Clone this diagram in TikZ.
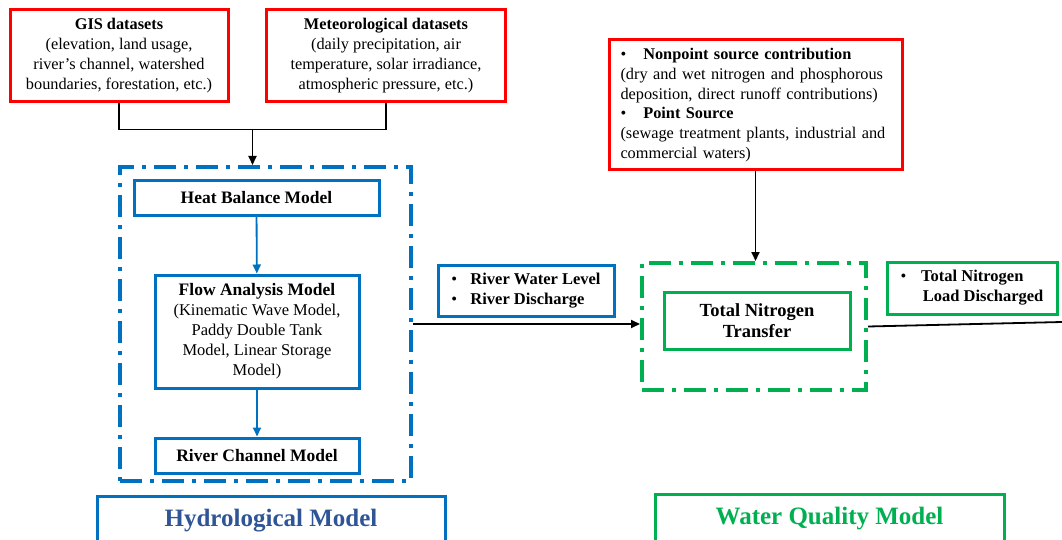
\documentclass[tikz,border=0pt]{standalone}
\usepackage{fontspec}
\setmainfont{Liberation Serif}
\usetikzlibrary{arrows.meta,calc}
\definecolor{cred}{HTML}{FF0000}
\definecolor{cblue}{HTML}{0070C0}
\definecolor{cgreen}{HTML}{00B050}
\definecolor{cdblue}{HTML}{2F5597}
\tikzset{
  redbox/.style={draw=cred,line width=3pt,inner sep=0pt,align=center,font=\fontsize{16.3}{20}\selectfont},
  bluebox/.style={draw=cblue,line width=3pt,inner sep=0pt,align=center,font=\fontsize{16.5}{20}\selectfont},
  greenbox/.style={draw=cgreen,line width=3pt,inner sep=0pt,align=center,font=\fontsize{16.5}{20}\selectfont},
  ddframe/.style={line width=4pt,dash pattern=on 22pt off 8pt on 4pt off 8pt,inner sep=0pt},
  blk/.style={line width=1.8pt,draw=black},
  tip/.style={-{Triangle[length=9pt,width=8pt]}},
  biglab/.style={line width=3pt,minimum height=50pt,font=\fontsize{25}{28}\selectfont\bfseries},
}
\begin{document}
\begin{tikzpicture}[x=1pt,y=-1pt]
\useasboundingbox (0,0) rectangle (1062,540);
\clip (0,0) rectangle (1062,540);
% top red boxes
\node[redbox,minimum width=218pt,minimum height=92pt] (gis) at (119,56)
  {\textbf{GIS datasets}\\(elevation, land usage,\\river's channel, watershed\\boundaries, forestation, etc.)};
\node[redbox,minimum width=239pt,minimum height=92pt] (met) at (386,56)
  {\textbf{Meteorological datasets}\\(daily precipitation, air\\temperature, solar irradiance,\\atmospheric pressure, etc.)};
\node[redbox,minimum width=293pt,minimum height=130pt,align=left,text width=270pt,font=\fontsize{16.3}{19.7}\selectfont] (src) at (755.5,105)
  {\textbullet\hspace{1.05em}\textbf{Nonpoint source contribution}\\(dry and wet nitrogen and phosphorous\\deposition, direct runoff contributions)\\\textbullet\hspace{1.05em}\textbf{Point Source}\\(sewage treatment plants, industrial and\\commercial waters)};
% hydrological frame
\node[ddframe,draw=cblue,minimum width=291pt,minimum height=314pt] (hydframe) at (265.5,324) {};
\node[bluebox,minimum width=245pt,minimum height=34pt] (heat) at (256.5,198) {\fontsize{17.5}{20}\selectfont\textbf{Heat Balance Model}};
\node[bluebox,minimum width=204pt,minimum height=113pt] (flow) at (257,331.5)
  {{\fontsize{17.5}{20}\selectfont\textbf{Flow Analysis Model}}\\(Kinematic Wave Model,\\Paddy Double Tank\\Model, Linear Storage\\Model)};
\node[bluebox,minimum width=204pt,minimum height=35pt] (river) at (257,455.5) {\fontsize{17.5}{20}\selectfont\textbf{River Channel Model}};
% middle
\node[bluebox,minimum width=176pt,minimum height=51pt,align=left] (rwl) at (526,290.5)
  {\textbullet\hspace{0.8em}\textbf{River Water Level}\\\textbullet\hspace{0.8em}\textbf{River Discharge}};
% water quality frame
\node[ddframe,draw=cgreen,minimum width=224pt,minimum height=127pt] (wqframe) at (754,326.5) {};
\node[greenbox,minimum width=186pt,minimum height=57pt,font=\fontsize{18.5}{21}\selectfont] (tnt) at (757,320.5) {\textbf{Total Nitrogen}\\\textbf{Transfer}};
\node[greenbox,minimum width=170pt,minimum height=52pt,align=left] (tnl) at (972,288)
  {\textbullet\hspace{0.9em}\textbf{Total Nitrogen}\\\hspace{1.35em}\textbf{Load Discharged}};
% bottom labels
\node[biglab,draw=cblue,minimum width=348pt,text=cdblue] (hydlab) at (271,521) {Hydrological Model};
\node[biglab,draw=cgreen,minimum width=349pt,text=cgreen] (wqlab) at (829.5,519) {Water Quality Model};
% connectors
\coordinate (j) at ($(gis.south)!0.5!(met.south)+(0,26)$);
\draw[blk] (gis.south) |- (j) -| (met.south);
\draw[blk,tip] (j) -- (j |- hydframe.north);
\draw[cblue,line width=1.8pt,tip] (heat) -- (flow);
\draw[cblue,line width=1.8pt,tip] (flow) -- (river);
\draw[blk,tip] (hydframe.east) -- (hydframe.east -| wqframe.west);
\draw[blk,tip] (src.south) -- (src.south |- wqframe.north);
\coordinate (out) at (1062,322);
\draw[blk] (wqframe.east) -- (out);
\end{tikzpicture}
\end{document}
